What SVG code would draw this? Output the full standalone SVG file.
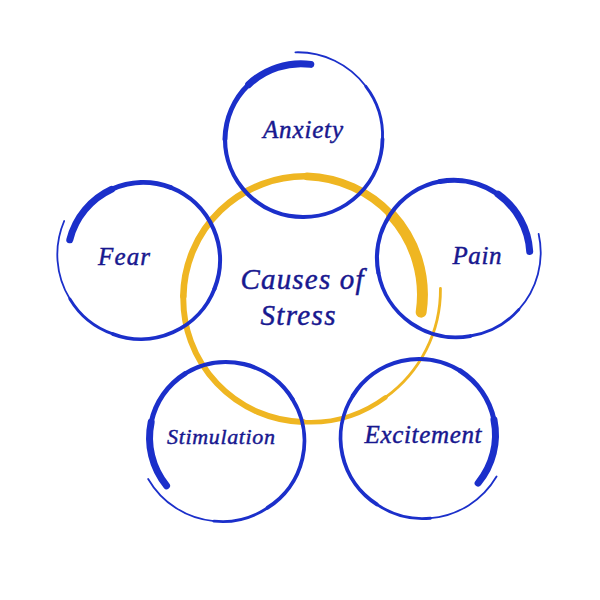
<svg xmlns="http://www.w3.org/2000/svg" xmlns:xlink="http://www.w3.org/1999/xlink" width="600" height="600" viewBox="0 0 600 600">
  <style>
    .lbl { font-family: "Liberation Serif", "DejaVu Serif", serif; font-style: italic; fill: #18188f; stroke: #18188f; stroke-width: 0.45; text-anchor: middle; }
    .ring path { fill: none; stroke-linecap: round; }
    .blue { stroke: #1b2fca; }
    .gold { stroke: #efb622; }
  </style>
  <defs>
    <g id="brush" class="ring">
      <path d="M -7.6 -86.7 A 85 85 0 0 1 62.8 -52.7" stroke-width="1.8"/>
      <path d="M 62.8 -52.7 A 81 81 0 0 1 79.5 0" stroke-width="2.9"/>
      <path d="M 79.5 0 A 79 79 0 0 1 0 78" stroke-width="3.8"/>
      <path d="M 0 78 A 78 78 0 0 1 -78 0" stroke-width="4.2"/>
      <path d="M -78 0 A 77.5 77.5 0 0 1 -54.4 -54.4" stroke-width="5"/>
      <path d="M -54.4 -54.4 A 76 76 0 0 1 7.8 -74.6" stroke-width="7" stroke-linecap="butt"/>
    </g>
  </defs>
  <rect width="600" height="600" fill="#ffffff"/>

  <g id="node-center">
    <use xlink:href="#brush" href="#brush" class="gold" transform="translate(305,298) rotate(91) scale(1.56)"/>
  </g>

  <g id="node-anxiety">
    <use xlink:href="#brush" href="#brush" class="blue" transform="translate(303,139)"/>
    <text class="lbl" x="303" y="138" font-size="25" textLength="80" lengthAdjust="spacing">Anxiety</text>
  </g>

  <g id="node-pain">
    <use xlink:href="#brush" href="#brush" class="blue" transform="translate(455,258) rotate(79)"/>
    <text class="lbl" x="477" y="264" font-size="25" textLength="49" lengthAdjust="spacing">Pain</text>
  </g>

  <g id="node-excitement">
    <use xlink:href="#brush" href="#brush" class="blue" transform="translate(419,437) rotate(122)"/>
    <text class="lbl" x="423" y="443" font-size="25" textLength="117" lengthAdjust="spacing">Excitement</text>
  </g>

  <g id="node-stimulation">
    <use xlink:href="#brush" href="#brush" class="blue" transform="translate(226,440) rotate(238.4) scale(-1,1)"/>
    <text class="lbl" x="221" y="444" font-size="22" textLength="108" lengthAdjust="spacing">Stimulation</text>
  </g>

  <g id="node-fear">
    <use xlink:href="#brush" href="#brush" class="blue" transform="translate(142,260) rotate(-68.4) scale(-1,1)"/>
    <text class="lbl" x="124" y="265" font-size="25" textLength="52" lengthAdjust="spacing">Fear</text>
  </g>

  <g id="node-center-label">
    <text class="lbl" x="302" y="289" font-size="29" textLength="123" lengthAdjust="spacing">Causes of</text>
    <text class="lbl" x="298" y="325" font-size="29" textLength="75" lengthAdjust="spacing">Stress</text>
  </g>

  <g id="connectors"/>
</svg>
